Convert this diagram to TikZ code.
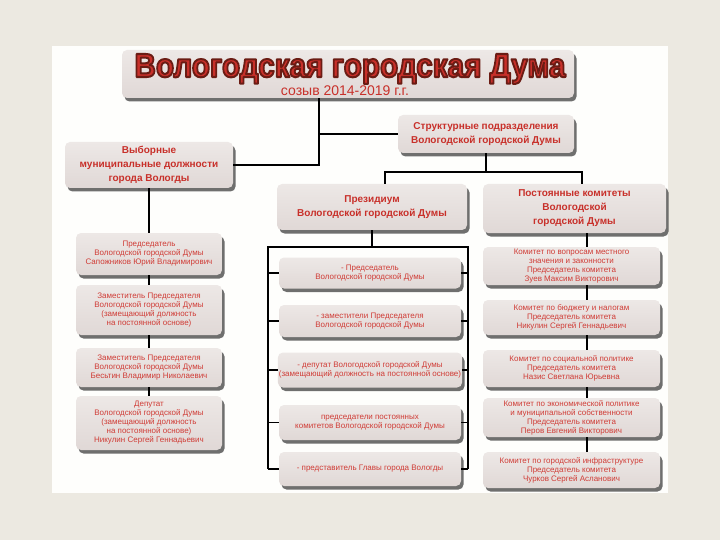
\documentclass[tikz,border=0pt]{standalone}
\usepackage{fontspec}
\setmainfont{Liberation Sans}
\usetikzlibrary{shadows}
\definecolor{bg}{HTML}{ECE9E1}
\definecolor{panel}{HTML}{FEFEFC}
\definecolor{boxtop}{HTML}{EDE8E6}
\definecolor{boxbot}{HTML}{E0D8D6}
\definecolor{redtxt}{HTML}{C8302A}
\definecolor{smalltxt}{HTML}{D03C36}
\definecolor{darkred}{HTML}{5E1A12}
\tikzset{
  box/.style={rounded corners=5pt, top color=boxtop, bottom color=boxbot, draw=none,
    drop shadow={shadow xshift=2.5pt, shadow yshift=-3.5pt, fill=black!80, opacity=0.7},
    align=center, inner sep=1pt},
  headbox/.style={box, text=redtxt, font=\fontsize{10}{14}\selectfont\bfseries},
  smallbox/.style={box, text=smalltxt, font=\fontsize{8}{9}\selectfont},
  colL/.style={smallbox, minimum width=146pt},
  colM/.style={smallbox, minimum width=182pt},
  colR/.style={smallbox, minimum width=177pt},
  link/.style={draw=black, line width=1.3pt},
  ttlstyle/.style={anchor=base, inner sep=0pt}
}
\newcommand{\ttlcomposite}{%
  \textcolor{redtxt}{\special{pdf:literal direct 0.42 0.11 0.08 RG 0.6 w 1 j 1 J 2 Tr}%
  \resizebox{431pt}{23pt}{\bfseries Вологодская городская Дума}%
  \special{pdf:literal direct 0 Tr 0 j 0 J}}}
\begin{document}
\begin{tikzpicture}[x=1pt,y=-1pt]
\useasboundingbox (0,0) rectangle (720,540);
\fill[bg] (0,0) rectangle (720,540);
\fill[panel] (52,46) rectangle (668,493);

% title
\node[box, minimum width=452pt, minimum height=48pt] (title) at (348,74) {};
\node[ttlstyle] (ttl) at (350,77) {\ttlcomposite};
\node[anchor=base, text=redtxt, inner sep=0pt, font=\fontsize{14}{16}\selectfont] (sozyv) at (345,96)
  {созыв 2014-2019 г.г.};

% level 2
\node[headbox, minimum width=176pt, minimum height=38pt] (struct) at (486,134)
  {Структурные подразделения\\Вологодской городской Думы};
\node[headbox, minimum width=168pt, minimum height=46pt] (vyb) at (149,165)
  {Выборные\\муниципальные должности\\города Вологды};
\node[headbox, minimum width=190pt, minimum height=46pt] (prez) at (372,207)
  {Президиум\\Вологодской городской Думы};
\node[headbox, minimum width=183pt, minimum height=49pt] (post) at (574.5,208.5)
  {Постоянные комитеты\\Вологодской\\городской Думы};

% left column
\node[colL, minimum height=42pt] (L1) at (149,254)
  {Председатель\\Вологодской городской Думы\\Сапожников Юрий Владимирович};
\node[colL, minimum height=50pt] (L2) at (149,310)
  {Заместитель Председателя\\Вологодской городской Думы\\(замещающий должность\\на постоянной основе)};
\node[colL, minimum height=39pt] (L3) at (149,367.5)
  {Заместитель Председателя\\Вологодской городской Думы\\Бесьтин Владимир Николаевич};
\node[colL, minimum height=54pt] (L4) at (149,423)
  {Депутат\\Вологодской городской Думы\\(замещающий должность\\на постоянной основе)\\Никулин Сергей Геннадьевич};

% middle column
\node[colM, minimum height=31pt] (M1) at (370,273)
  {- Председатель\\Вологодской городской Думы};
\node[colM, minimum height=32pt] (M2) at (370,321)
  {- заместители Председателя\\Вологодской городской Думы};
\node[colM, minimum height=35pt] (M3) at (370,370)
  {- депутат Вологодской городской Думы\\(замещающий должность на постоянной основе)};
\node[colM, minimum height=35pt] (M4) at (370,422.5)
  {председатели постоянных\\комитетов Вологодской городской Думы};
\node[colM, minimum height=34pt] (M5) at (370,469)
  {- представитель Главы города Вологды};

% right column
\node[colR, minimum height=38pt] (R1) at (571.5,266)
  {Комитет по вопросам местного\\значения и законности\\Председатель комитета\\Зуев Максим Викторович};
\node[colR, minimum height=35pt] (R2) at (571.5,317.5)
  {Комитет по бюджету и налогам\\Председатель комитета\\Никулин Сергей Геннадьевич};
\node[colR, minimum height=37pt] (R3) at (571.5,368.5)
  {Комитет по социальной политике\\Председатель комитета\\Назис Светлана Юрьевна};
\node[colR, minimum height=39pt] (R4) at (571.5,417.5)
  {Комитет по экономической политике\\и муниципальной собственности\\Председатель комитета\\Перов Евгений Викторович};
\node[colR, minimum height=36pt] (R5) at (571.5,470)
  {Комитет по городской инфраструктуре\\Председатель комитета\\Чурков Сергей Асланович};

% connectors
\coordinate (j1) at (319,165);
\draw[link] (title.south -| j1) -- (j1) -- (vyb.east);
\draw[link] (struct.west) -- (struct.west -| j1);
\coordinate (j2) at (486,172);
\coordinate (bl) at (385,172);
\coordinate (br) at (582,172);
\draw[link] (struct.south) -- (j2);
\draw[link] (bl |- prez.north) -- (bl) -- (br) -- (br |- post.north);

\draw[link] (vyb.south) -- (L1.north);
\draw[link] (L1.south) -- (L2.north);
\draw[link] (L2.south) -- (L3.north);
\draw[link] (L3.south) -- (L4.north);

\coordinate (lx) at (268,247);
\coordinate (rx) at (468,247);
\draw[link] (prez.south) -- (prez.south |- lx);
\draw[link] (lx |- M5) -- (lx) -- (rx) -- (rx |- M5);
\foreach \m in {M1,M2,M3,M4,M5}{
  \draw[link] (\m.west) -- (\m.west -| lx);
  \draw[link] (\m.east) -- (\m.east -| rx);
}

\coordinate (sx) at (587,0);
\draw[link] (post.south -| sx) -- (R1.north -| sx);
\draw[link] (R1.south -| sx) -- (R2.north -| sx);
\draw[link] (R2.south -| sx) -- (R3.north -| sx);
\draw[link] (R3.south -| sx) -- (R4.north -| sx);
\draw[link] (R4.south -| sx) -- (R5.north -| sx);
\end{tikzpicture}
\end{document}
